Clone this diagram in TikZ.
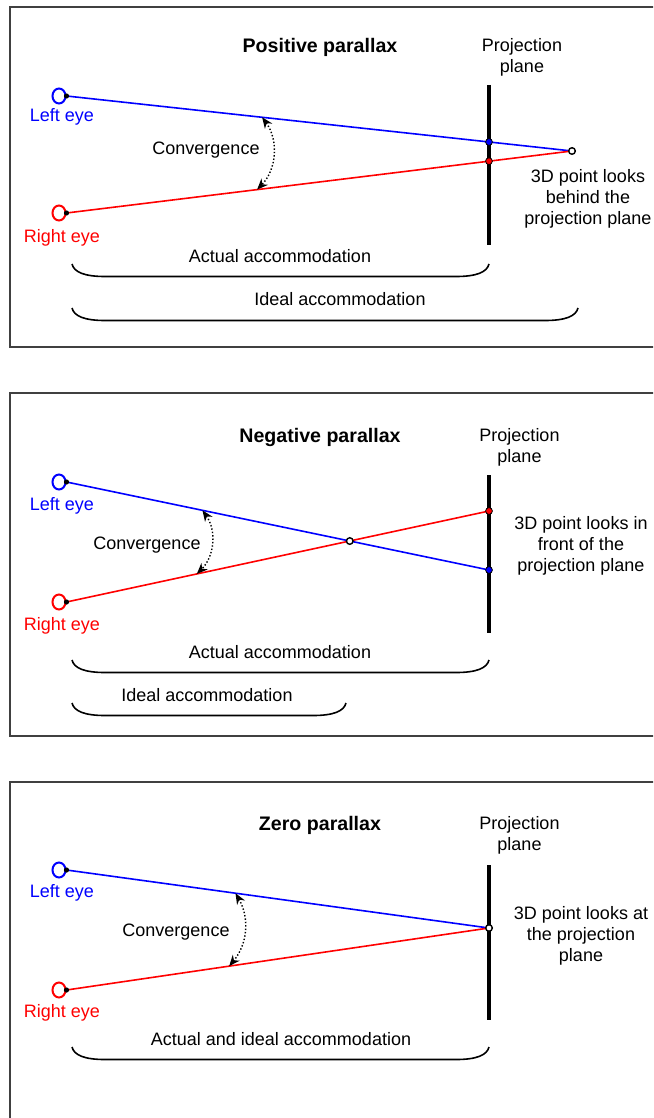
\documentclass[tikz,border=0pt]{standalone}
\usepackage{fontspec}
\setmainfont{Liberation Sans}
\usetikzlibrary{positioning,calc,shapes.geometric,arrows.meta}

\tikzset{
  eye/.style={draw=#1, ellipse, line width=1pt, minimum width=6.5pt, minimum height=7.5pt, inner sep=0pt},
  eyelbl/.style={text=#1, font=\fontsize{9}{10.5}\selectfont},
  lbl/.style={font=\fontsize{9}{10.5}\selectfont, align=center},
  ttl/.style={font=\fontsize{9.8}{11}\selectfont\bfseries},
  ray/.style={draw=#1, line width=0.8pt},
  plane/.style={line width=2pt},
  point/.style={circle, draw, fill=white, line width=0.7pt, inner sep=0pt, minimum size=3.3pt},
  hit/.style={circle, draw=black, fill=#1, line width=0.4pt, inner sep=0pt, minimum size=3.4pt},
  conv/.style={densely dotted, line width=0.7pt, {Stealth[length=5.5pt,width=4.5pt]}-{Stealth[length=5.5pt,width=4.5pt]}},
  accbrace/.style={line width=0.8pt, to path={.. controls ($(\tikztostart)+(2,8)$) and ($(\tikztostart)+(12,12.5)$) .. ($(\tikztostart)+(33,12.5)$)
      -- ($(\tikztotarget)+(-33,12.5)$) .. controls ($(\tikztotarget)+(-12,12.5)$) and ($(\tikztotarget)+(-2,8)$) .. (\tikztotarget)}},
  panel/.style={draw=black!75, line width=0.8pt}
}

\begin{document}
\begin{tikzpicture}[x=0.5pt,y=-0.5pt]
  \useasboundingbox (0,0) rectangle (653,1118);
  \clip (0,0) rectangle (653,1118);

  % frames
  \draw[panel] (10,7) rectangle (700,347);
  \draw[panel] (10,393) rectangle (700,736);
  \draw[panel] (10,782) rectangle (700,1200);

  % ---- positive parallax
  \node[ttl] (title1) at (320,47) {Positive parallax};
  \node[lbl] (proj1) at (522,57.5) {Projection\\plane};
  \coordinate (T1) at (489,85);
  \coordinate (B1) at (489,245);
  \draw[plane] (T1) -- (B1);
  \node[eye=blue] (L1) at (59,96) {};
  \node[eye=red] (R1) at (59,213) {};
  \node[eyelbl=blue] (LL1) at (62,117) {Left eye};
  \node[eyelbl=red] (RL1) at (62,238) {Right eye};
  \coordinate (P1) at (572,151);
  \draw[ray=blue] (L1.east) -- (P1);
  \draw[ray=red] (R1.east) -- (P1);
  \fill (L1.east) circle (1.3pt);
  \fill (R1.east) circle (1.3pt);
  \node[hit=blue] (HB1) at (intersection of L1.east--P1 and T1--B1) {};
  \node[hit=red] (HR1) at (intersection of R1.east--P1 and T1--B1) {};
  \node[point] (PP1) at (P1) {};
  \node[lbl] (txt1) at (588,199) {3D point looks\\behind the\\projection plane};
  \coordinate (CA1) at ($(L1.east)!0.387!(P1)$);
  \coordinate (CB1) at ($(R1.east)!0.377!(P1)$);
  \draw[conv] (CA1) to[bend left=40] (CB1);
  \node[lbl] (cv1) at (206,150) {Convergence};
  \coordinate (A1s) at (72,264);
  \coordinate (A1e) at (489,264);
  \draw[accbrace] (A1s) to (A1e);
  \node[lbl] (A1) at (280,256) {Actual accommodation};
  \coordinate (I1s) at (72,308);
  \coordinate (I1e) at (578,308);
  \draw[accbrace] (I1s) to (I1e);
  \node[lbl] (I1) at (340,299) {Ideal accommodation};

  % ---- negative parallax
  \node[ttl] (title2) at (320,437) {Negative parallax};
  \node[lbl] (proj2) at (519.5,447.5) {Projection\\plane};
  \coordinate (T2) at (489,475);
  \coordinate (B2) at (489,633);
  \draw[plane] (T2) -- (B2);
  \node[eye=blue] (L2) at (59,482) {};
  \node[eye=red] (R2) at (59,602) {};
  \node[eyelbl=blue] (LL2) at (62,506) {Left eye};
  \node[eyelbl=red] (RL2) at (62,626) {Right eye};
  \coordinate (D2b) at (489,570);
  \coordinate (D2r) at (489,511);
  \draw[ray=blue] (L2.east) -- (D2b);
  \draw[ray=red] (R2.east) -- (D2r);
  \fill (L2.east) circle (1.3pt);
  \fill (R2.east) circle (1.3pt);
  \node[hit=blue] (HB2) at (D2b) {};
  \node[hit=red] (HR2) at (D2r) {};
  \node[point] (PP2) at (intersection of L2.east--D2b and R2.east--D2r) {};
  \node[lbl] (txt2) at (581,546) {3D point looks in\\front of the\\projection plane};
  \coordinate (CA2) at ($(L2.east)!0.48!(PP2)$);
  \coordinate (CB2) at ($(R2.east)!0.46!(PP2)$);
  \draw[conv] (CA2) to[bend left=40] (CB2);
  \node[lbl] (cv2) at (147,545) {Convergence};
  \coordinate (A2s) at (72,660);
  \coordinate (A2e) at (489,660);
  \draw[accbrace] (A2s) to (A2e);
  \node[lbl] (A2) at (280,652) {Actual accommodation};
  \coordinate (I2s) at (72,703);
  \coordinate (I2e) at (346,703);
  \draw[accbrace] (I2s) to (I2e);
  \node[lbl] (I2) at (207,695) {Ideal accommodation};

  % ---- zero parallax
  \node[ttl] (title3) at (320,825) {Zero parallax};
  \node[lbl] (proj3) at (519.5,835.5) {Projection\\plane};
  \coordinate (T3) at (489,865);
  \coordinate (B3) at (489,1020);
  \draw[plane] (T3) -- (B3);
  \node[eye=blue] (L3) at (59,870) {};
  \node[eye=red] (R3) at (59,990) {};
  \node[eyelbl=blue] (LL3) at (62,893) {Left eye};
  \node[eyelbl=red] (RL3) at (62,1013) {Right eye};
  \coordinate (P3) at (489,928);
  \draw[ray=blue] (L3.east) -- (P3);
  \draw[ray=red] (R3.east) -- (P3);
  \fill (L3.east) circle (1.3pt);
  \fill (R3.east) circle (1.3pt);
  \node[point] (PP3) at (P3) {};
  \node[lbl] (txt3) at (581,936) {3D point looks at\\the projection\\plane};
  \coordinate (CA3) at ($(L3.east)!0.40!(P3)$);
  \coordinate (CB3) at ($(R3.east)!0.385!(P3)$);
  \draw[conv] (CA3) to[bend left=35] (CB3);
  \node[lbl] (cv3) at (176,932) {Convergence};
  \coordinate (A3s) at (72,1047);
  \coordinate (A3e) at (489,1047);
  \draw[accbrace] (A3s) to (A3e);
  \node[lbl] (A3) at (281,1039) {Actual and ideal accommodation};
\end{tikzpicture}
\end{document}
